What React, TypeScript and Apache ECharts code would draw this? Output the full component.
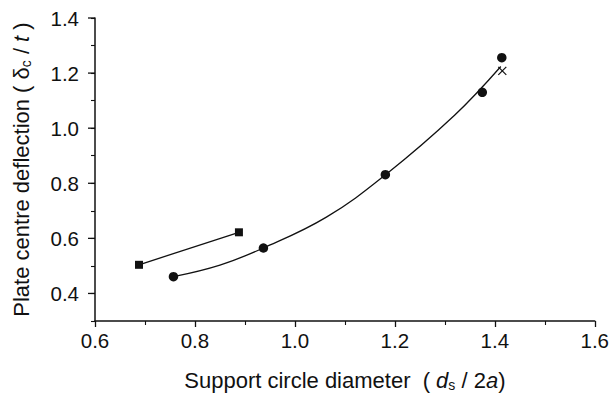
import React, { useEffect, useRef } from "react";
import * as echarts from "echarts";

// Measured points: circles, squares and the single cross
const circleX = [0.757, 0.937, 1.181, 1.375, 1.414];
const circleY = [0.461, 0.565, 0.831, 1.13, 1.256];
const squareX = [0.688, 0.888];
const squareY = [0.504, 0.622];
const crossX = [1.415];
const crossY = [1.208];

// Fitted curve through the circle data
const fitX = [0.757, 0.85, 0.937, 1.063, 1.182, 1.32, 1.412];
const fitY = [0.461, 0.503, 0.565, 0.677, 0.832, 1.048, 1.224];

// Labelled (long-tick) values on the left axis
const yMajorTicks = [0.4, 0.6, 0.8, 1.0, 1.2, 1.4];

const FONT = "Liberation Sans";
const X_MIN = 0.6;

const pairs = (xs: number[], ys: number[]) => xs.map((x, i) => [x, ys[i]]);

// Longer outward ticks on the left axis at the labelled values
const majorTickSeries = (values: number[], len: number, width: number) => ({
  type: "custom",
  coordinateSystem: "cartesian2d",
  clip: false,
  silent: true,
  data: values.map((v) => [X_MIN, v]),
  encode: { x: 0, y: 1 },
  renderItem: (_params: any, api: any) => {
    const p = api.coord([api.value(0), api.value(1)]);
    return {
      type: "line",
      shape: { x1: p[0] - len, y1: p[1], x2: p[0], y2: p[1] },
      style: { stroke: "#111", lineWidth: width },
    };
  },
  z: 5,
});

export default function App() {
  const ref = useRef<HTMLDivElement>(null);

  useEffect(() => {
    if (!ref.current) return;
    const chart = echarts.init(ref.current, null, { renderer: "svg" });
    const black = "#111";
    const rich = {
      n: { fontFamily: FONT, fontSize: 22, color: black },
      i: { fontFamily: FONT, fontSize: 22, color: black, fontStyle: "italic" },
      sub: { fontFamily: FONT, fontSize: 14, color: black, padding: [10, 0, 0, 0] },
    };
    chart.setOption({
      animation: false,
      backgroundColor: "#fff",
      grid: { left: 95, right: 17, top: 18, bottom: 67, containLabel: false },
      xAxis: {
        type: "value",
        min: X_MIN,
        max: 1.6,
        interval: 0.2,
        name: "{n|Support circle diameter  ( }{i|d}{sub|s}{n| / 2}{i|a}{n|)}",
        nameLocation: "middle",
        nameGap: 47,
        nameTextStyle: { rich },
        axisLine: { show: true, lineStyle: { color: black, width: 1.5 } },
        axisTick: { show: true, length: 6, lineStyle: { color: black, width: 1.3 } },
        minorTick: { show: true, splitNumber: 2, length: 4, lineStyle: { color: black, width: 1.1 } },
        axisLabel: {
          fontFamily: FONT,
          fontSize: 20.5,
          color: black,
          margin: 9,
          formatter: (v: number) => v.toFixed(1),
        },
        splitLine: { show: false },
      },
      yAxis: {
        type: "value",
        min: 0.3,
        max: 1.4,
        interval: 0.1,
        name: "{n|Plate centre deflection ( δ}{sub|c}{n| / }{i|t}{n| )}",
        nameLocation: "middle",
        nameGap: 62,
        nameRotate: 90,
        nameTextStyle: { rich },
        axisLine: { show: true, lineStyle: { color: black, width: 1.5 } },
        axisTick: { show: true, length: 4, lineStyle: { color: black, width: 1.1 } },
        axisLabel: {
          fontFamily: FONT,
          fontSize: 20.5,
          color: black,
          margin: 16,
          customValues: yMajorTicks,
          formatter: (v: number) => v.toFixed(1),
        },
        splitLine: { show: false },
      },
      series: [
        majorTickSeries(yMajorTicks, 7, 1.3),
        {
          type: "line",
          data: pairs(fitX, fitY),
          smooth: 0.4,
          showSymbol: false,
          lineStyle: { color: black, width: 1.3 },
          z: 2,
        },
        {
          type: "scatter",
          data: pairs(circleX, circleY),
          symbol: "circle",
          symbolSize: 9.5,
          itemStyle: { color: black, opacity: 1 },
          z: 3,
        },
        {
          type: "line",
          data: pairs(squareX, squareY),
          symbol: "rect",
          symbolSize: 8,
          showAllSymbol: true,
          itemStyle: { color: black, opacity: 1 },
          lineStyle: { color: black, width: 1.3 },
          z: 3,
        },
        {
          type: "scatter",
          data: pairs(crossX, crossY),
          symbol: "path://M0,0L10,10M10,0L0,10",
          symbolSize: 8,
          itemStyle: { color: "none", borderColor: black, borderWidth: 1.2, opacity: 1 },
          z: 3,
        },
      ],
    });
    return () => chart.dispose();
  }, []);

  return (
    <div
      ref={ref}
      style={{ position: "fixed", left: 0, top: 0, width: 612, height: 397, background: "#fff" }}
    />
  );
}
